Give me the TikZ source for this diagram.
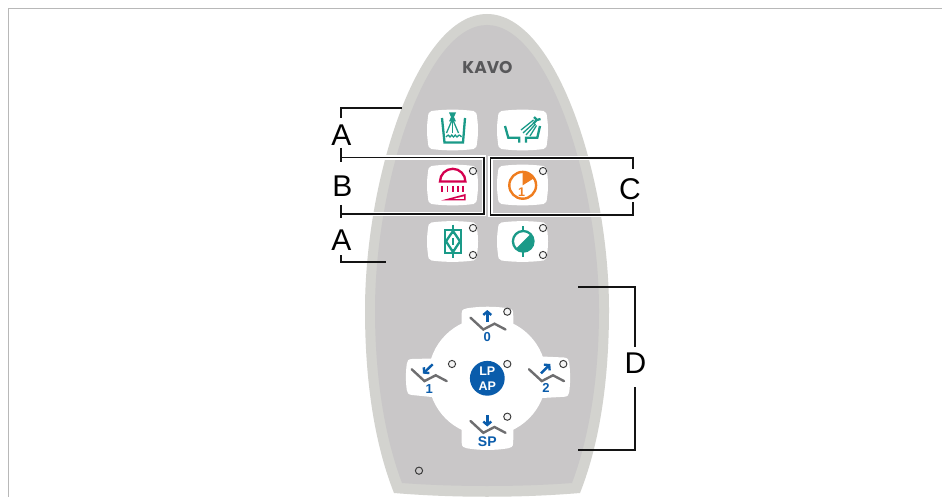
\documentclass[tikz,border=0pt]{standalone}
\usepackage{fontspec}
\setmainfont{Liberation Sans}
\newfontfamily\logofont{Poppins}
\usetikzlibrary{arrows.meta}
\definecolor{shell}{HTML}{D3D3CF}
\definecolor{panel}{HTML}{C9C7C8}
\definecolor{teal}{HTML}{1A9A88}
\definecolor{crim}{HTML}{D4004F}
\definecolor{orng}{HTML}{EF7D1F}
\definecolor{kblue}{HTML}{0A5CAB}
\definecolor{chair}{HTML}{6E6E70}
\definecolor{logo}{HTML}{58585A}
\tikzset{
  frameline/.style={draw=black!28,line width=1pt},
  bracket/.style={draw=black!92,line width=1.4pt},
  halo/.style={draw=white,line width=4.4pt},
  letter/.style={font=\fontsize{30}{30}\selectfont,inner sep=0pt,text height=22pt,text depth=0pt,text=black},
  led/.style={draw=black!78,fill=black!4,line width=.95pt},
  tealline/.style={draw=teal,line width=2.3pt},
  thinteal/.style={draw=teal,line width=1.3pt},
  crimline/.style={draw=crim,line width=2.3pt},
  chairline/.style={draw=chair,line width=2.4pt,line cap=round,line join=miter},
  blueArrow/.style={draw=kblue,line width=2.4pt,-{Straight Barb[length=3.4pt,width=8pt]}},
  bluelabel/.style={font=\fontsize{13}{13}\selectfont\bfseries,text=kblue,inner sep=0pt},
  whitelabel/.style={font=\fontsize{12.5}{12}\selectfont\bfseries,text=white,inner sep=0pt},
  keybtn/.pic={
    \fill[white] (-21,-19) .. controls (-8,-20.8) and (8,-20.8) .. (21,-19)
      .. controls (24,-18.6) and (24.2,-16) .. (24.6,-12)
      .. controls (25.8,-4) and (25.8,4) .. (24.6,12)
      .. controls (24.2,16) and (24,18.6) .. (21,19)
      .. controls (8,20.8) and (-8,20.8) .. (-21,19)
      .. controls (-24,18.6) and (-24.2,16) .. (-24.6,12)
      .. controls (-25.8,4) and (-25.8,-4) .. (-24.6,-12)
      .. controls (-24.2,-16) and (-24,-18.6) .. (-21,-19) -- cycle;
  },
  chairicon/.pic={
    \draw[chairline] (0,0) -- (12.8,11.8) -- (24,6) -- (35,11.8);
  }
}
\begin{document}
\begin{tikzpicture}[x=1pt,y=-1pt]
\useasboundingbox (0,0) rectangle (942,497);
\clip (0,0) rectangle (942,497);
\fill[white] (0,0) rectangle (942,497);
% page frame
\draw[frameline] (942,8.5) -- (8.5,8.5) -- (8.5,497);
% body
\fill[shell] (487,14) .. controls (557,14) and (609,180) .. (609,310)
  .. controls (609,375) and (601,440) .. (580,493)
  .. controls (520,498) and (454,498) .. (394,493)
  .. controls (373,440) and (365,375) .. (365,310)
  .. controls (365,180) and (417,14) .. (487,14) -- cycle;
\fill[panel] (487,25) .. controls (549,25) and (599,185) .. (599,310)
  .. controls (599,375) and (590,435) .. (572,483)
  .. controls (520,487) and (454,487) .. (402,483)
  .. controls (384,435) and (375,375) .. (375,310)
  .. controls (375,185) and (425,25) .. (487,25) -- cycle;
% logo
\node[font=\logofont\fontsize{17}{17}\selectfont\bfseries,text=logo,inner sep=0pt] (kavo) at (487.5,67.5) {KAVO};
% buttons
\pic at (452.5,130) {keybtn};
\pic at (522.5,130) {keybtn};
\pic at (452.5,185) {keybtn};
\pic at (522.5,185) {keybtn};
\pic at (452.5,241.5) {keybtn};
\pic at (522.5,241.5) {keybtn};
% cup icon
\draw[tealline,line join=miter] (442,118) -- (444.5,142.5) -- (463,142.5) -- (465,118);
\draw[thinteal] (446,137) .. controls (448,134.5) and (449,134.5) .. (450,137) .. controls (451,134.5) and (452.5,134.5) .. (453.5,137) .. controls (454.5,134.5) and (456,134.5) .. (457,137) .. controls (458,134.5) and (460,134.5) .. (461.5,137);
\draw[thinteal] (452.5,119) -- (446.5,133);
\draw[thinteal] (452.5,119) -- (452.5,133);
\draw[thinteal] (452.5,119) -- (458.5,133);
\fill[teal] (449,112.5) -- (456,112.5) -- (454,117) -- (456,121.5) -- (449,121.5) -- (451,117) -- cycle;
% basin icon
\draw[tealline,line join=miter] (505,126) -- (508.3,137.7) -- (519.3,137.7) -- (519.3,142.7);
\draw[tealline,line join=miter] (540,126) -- (537.3,137.7) -- (526,137.7) -- (526,142.7);
\draw[thinteal] (535,122) -- (523,133);
\draw[thinteal] (535.5,124) -- (526,135);
\draw[thinteal] (536.5,125.5) -- (530,136);
\draw[thinteal] (533.5,120) -- (521,130);
\draw[tealline] (533.5,123.5) -- (537,119.5);
\draw[tealline] (534,117) -- (537,120) -- (540.5,119);
% shower light icon
\draw[crimline] (440,181.5) arc[start angle=180,end angle=360,radius=12.7] -- cycle;
\foreach \tx in {442.3,447.5,452.7,457.9,463}
  \draw[draw=crim,line width=1.7pt] (\tx,186) -- (\tx,191.7);
\fill[crim] (441,200.5) -- (465.5,194) -- (465.5,200.5) -- cycle;
\fill[white] (453.5,198.9) -- (463.8,196.4) -- (463.8,198.9) -- cycle;
% orange icon
\draw[draw=orng,line width=2.4pt] (522.7,185.3) circle[radius=13.4];
\fill[orng] (522.7,185.3) -- (522.7,172) arc[start angle=-90,end angle=-32,radius=13.3] -- cycle;
\node[font=\fontsize{12.5}{12}\selectfont\bfseries,text=orng,inner sep=0pt] (one) at (521.7,192.4) {1};
% diamond icon
\draw[tealline,line join=miter] (445,229.7) rectangle (461,253);
\draw[tealline] (453,224.5) -- (453,258);
\fill[white] (449.5,234) rectangle (456.5,249);
\draw[tealline,line join=miter] (453,231) -- (460,241.3) -- (453,252) -- (446,241.3) -- cycle;
\draw[draw=teal,line width=1.4pt] (453,238.2) -- (453,245.3);
% half circle icon
\draw[tealline] (523.2,226) -- (523.2,256.5);
\fill[white] (523.2,241.3) circle[radius=10];
\draw[tealline] (523.2,241.3) circle[radius=10.3];
\fill[teal] (530.5,234) arc[start angle=-45,end angle=135,radius=10.3] -- cycle;
% cross control
\fill[white] (487.3,376.7) circle[radius=59];
\fill[white] (461.5,332) -- (461.7,313) .. controls (461.8,309.5) and (464,308.8) .. (467,308.3) .. controls (480,306.2) and (495,306.2) .. (508,308.3) .. controls (511,308.8) and (513,309.5) .. (513.2,313) -- (513.5,332) -- cycle;
\fill[white] (461.5,422) -- (461.7,443) .. controls (461.8,447) and (464,447.8) .. (467,448.3) .. controls (480,450.5) and (495,450.5) .. (508,448.3) .. controls (511,447.8) and (513,447) .. (513.2,443) -- (513.5,422) -- cycle;
\fill[white] (432,358.5) -- (412,359) .. controls (408,359) and (407.2,361) .. (406.8,364) .. controls (405.6,372) and (405.6,382) .. (406.8,390) .. controls (407.2,393) and (408,394.5) .. (412,395) -- (432,397) -- cycle;
\fill[white] (542,356.5) -- (564,357.5) .. controls (568,357.8) and (568.8,360) .. (569.2,363) .. controls (570.4,372) and (570.4,384) .. (569.2,392) .. controls (568.8,395) and (568,396.5) .. (564,396.8) -- (542,398) -- cycle;
% chair icons
\pic at (470.5,317.7) {chairicon};
\pic at (411.7,369.3) {chairicon};
\pic at (529,369.3) {chairicon};
\pic at (470.5,421) {chairicon};
\draw[blueArrow] (487.3,322) -- (487.3,310);
\draw[blueArrow] (432.7,364.3) -- (423,373.6);
\draw[blueArrow] (541,373.3) -- (550.3,364);
\draw[blueArrow] (487.3,415) -- (487.3,426.5);
\node[bluelabel] (lab0) at (487.3,337.3) {0};
\node[bluelabel] (lab1) at (429.3,389.3) {1};
\node[bluelabel] (lab2) at (546,388.3) {2};
\node[bluelabel,font=\fontsize{14}{14}\selectfont\bfseries] (labSP) at (487.3,441.5) {SP};
\fill[kblue] (487.3,378.3) circle[radius=17.4];
\node[whitelabel] (labLP) at (487.3,371) {LP};
\node[whitelabel] (labAP) at (487.3,385.7) {AP};
% leds
\foreach \lx/\ly in {473/171,543/171,473/228,473/255,543/228,543/255,507.3/311.7,452/364,507.3/364,563.3/364,507.3/416.7}
  \draw[led] (\lx,\ly) circle[radius=3.6];
\draw[led,fill=panel] (419,470.7) circle[radius=3.6];
% brackets
\node[letter] (A1) at (341.5,134.5) {A};
\node[letter] (B) at (342.5,185.5) {B};
\node[letter] (A2) at (341.5,239) {A};
\node[letter] (C) at (630,188.5) {C};
\node[letter] (D) at (635.5,362.5) {D};
\coordinate (a1end) at (401.5,108);
\coordinate (a2end) at (386,262);
\coordinate (btl) at (341,157.5);
\coordinate (btr) at (484,157.5);
\coordinate (bbr) at (484,214);
\coordinate (bbl) at (341,214);
\coordinate (ctl) at (490.5,158);
\coordinate (ctr) at (633,158);
\coordinate (cbr) at (633,215);
\coordinate (cbl) at (490.5,215);
\coordinate (dtl) at (578,287);
\coordinate (dtr) at (635,287);
\coordinate (dbr) at (635,450);
\coordinate (dbl) at (578,450);
\draw[halo] (btl) -- (btr) -- (bbr) -- (bbl);
\draw[halo] (cbr) -- (cbl) -- (ctl) -- (ctr);
\draw[bracket] (a1end) -- (341,108) -- (341,118.5);
\draw[bracket] (341,148) -- (341,162.5);
\draw[bracket] (341,205) -- (341,218.5);
\draw[bracket] (341,255) -- (341,262) -- (a2end);
\draw[bracket] (btl) -- (btr) -- (bbr) -- (bbl);
\draw[bracket] (633,169) -- (ctr) -- (ctl) -- (cbl) -- (cbr) -- (633,202);
\draw[bracket] (dtl) -- (dtr) -- (635,347);
\draw[bracket] (635,387) -- (dbr) -- (dbl);
\end{tikzpicture}
\end{document}
